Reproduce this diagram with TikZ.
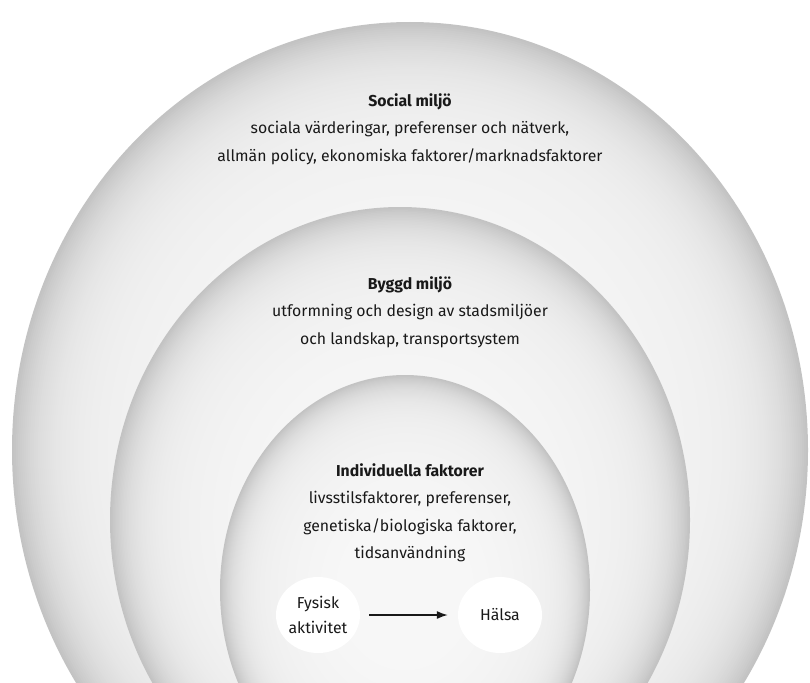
\documentclass[tikz,border=0pt]{standalone}
\usepackage{fontspec}
\setmainfont{Fira Sans}
\usetikzlibrary{shapes.geometric,arrows.meta}
\definecolor{textgray}{gray}{0.1}
\tikzset{
  caption/.style={align=center,text=textgray,font=\fontsize{15.8}{27.5}\selectfont},
  blob/.style={ellipse,fill=white,minimum width=84pt,minimum height=76pt,inner sep=0pt,
    align=center,text=textgray,font=\fontsize{15.8}{25}\selectfont}
}
\begin{document}
\begin{tikzpicture}[x=1pt,y=-1pt]
\path[use as bounding box] (0,0) rectangle (810,682);
\clip (0,0) rectangle (810,682);
\foreach \cx/\cy/\rx/\ry in {410/450/398/428, 400/520/290/313, 405/590/185/215} {
  \foreach \k in {0,...,140} {
    \pgfmathsetmacro\f{1-\k/200}
    \pgfmathtruncatemacro\v{249-14*(\f)^2-40*(\f)^14}
    \definecolor{layergray}{RGB}{\v,\v,\v}
    \fill[layergray] (\cx,\cy) ellipse [x radius=\f*\rx, y radius=\f*\ry];
  }
}
\node[caption] (social) at (410,129) {\textbf{Social miljö}\\sociala värderingar, preferenser och nätverk,\\allmän policy, ekonomiska faktorer/marknadsfaktorer};
\node[caption] (byggd) at (410,312) {\textbf{Byggd miljö}\\utformning och design av stadsmiljöer\\och landskap, transportsystem};
\node[caption] (indiv) at (410,513) {\textbf{Individuella faktorer}\\livsstilsfaktorer, preferenser,\\genetiska/biologiska faktorer,\\tidsanvändning};
\node[blob] (fys) at (318,615) {Fysisk\\aktivitet};
\node[blob] (hals) at (500,615) {Hälsa};
\draw[-{Latex[length=11pt,width=8pt]},line width=1.4pt,textgray,shorten <=9pt,shorten >=10pt] (fys) -- (hals);
\end{tikzpicture}
\end{document}
